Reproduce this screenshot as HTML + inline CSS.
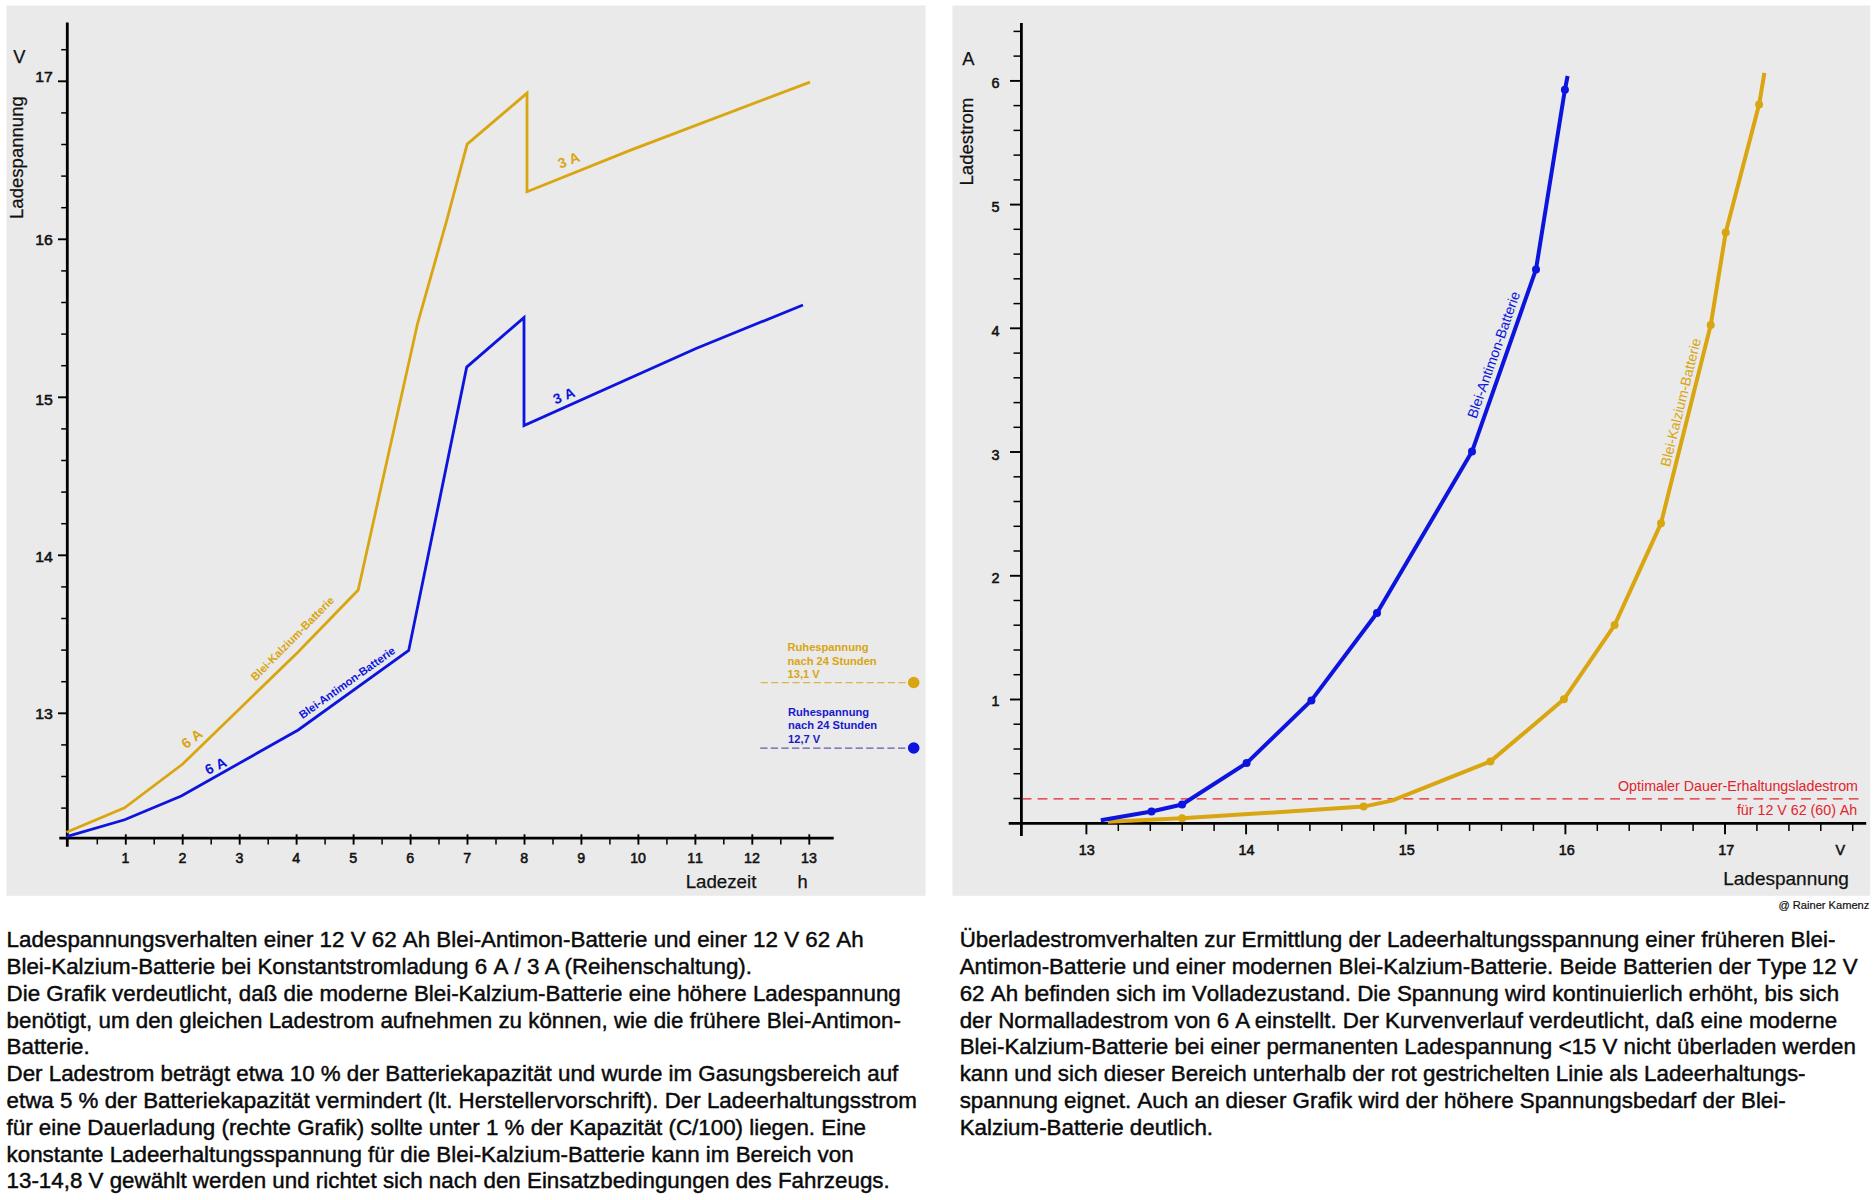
<!DOCTYPE html>
<html lang="de"><head><meta charset="utf-8"><title>Ladespannung</title>
<style>html,body{margin:0;padding:0;background:#fff}body{width:1873px;height:1200px;overflow:hidden;position:relative}svg{position:absolute;left:0;top:0;display:block}text{font-kerning:none;font-family:'Liberation Sans', sans-serif}</style>
</head><body>
<svg width="1873" height="1200" viewBox="0 0 1873 1200">
<rect x="0" y="0" width="1873" height="1200" fill="#fff"/>
<rect x="6.5" y="5.5" width="919" height="890.3" fill="#EAEAEA"/>
<rect x="952.5" y="5.5" width="917.7" height="890.3" fill="#EAEAEA"/>
<g stroke="#000" fill="none">
<line x1="67.3" y1="22.5" x2="67.3" y2="846.8" stroke-width="2.8"/>
<line x1="59.3" y1="838.2" x2="833.7" y2="838.2" stroke-width="2.8"/>
<line x1="61.2" y1="808.1" x2="67.3" y2="808.1" stroke-width="1.5"/>
<line x1="61.2" y1="776.5" x2="67.3" y2="776.5" stroke-width="1.5"/>
<line x1="61.2" y1="744.9" x2="67.3" y2="744.9" stroke-width="1.5"/>
<line x1="58" y1="713.3" x2="67.3" y2="713.3" stroke-width="1.9"/>
<line x1="61.2" y1="681.7" x2="67.3" y2="681.7" stroke-width="1.5"/>
<line x1="61.2" y1="650.1" x2="67.3" y2="650.1" stroke-width="1.5"/>
<line x1="61.2" y1="618.5" x2="67.3" y2="618.5" stroke-width="1.5"/>
<line x1="61.2" y1="586.9" x2="67.3" y2="586.9" stroke-width="1.5"/>
<line x1="58" y1="555.3" x2="67.3" y2="555.3" stroke-width="1.9"/>
<line x1="61.2" y1="523.7" x2="67.3" y2="523.7" stroke-width="1.5"/>
<line x1="61.2" y1="492.1" x2="67.3" y2="492.1" stroke-width="1.5"/>
<line x1="61.2" y1="460.5" x2="67.3" y2="460.5" stroke-width="1.5"/>
<line x1="61.2" y1="428.9" x2="67.3" y2="428.9" stroke-width="1.5"/>
<line x1="58" y1="397.3" x2="67.3" y2="397.3" stroke-width="1.9"/>
<line x1="61.2" y1="365.7" x2="67.3" y2="365.7" stroke-width="1.5"/>
<line x1="61.2" y1="334.1" x2="67.3" y2="334.1" stroke-width="1.5"/>
<line x1="61.2" y1="302.5" x2="67.3" y2="302.5" stroke-width="1.5"/>
<line x1="61.2" y1="270.9" x2="67.3" y2="270.9" stroke-width="1.5"/>
<line x1="58" y1="239.3" x2="67.3" y2="239.3" stroke-width="1.9"/>
<line x1="61.2" y1="207.7" x2="67.3" y2="207.7" stroke-width="1.5"/>
<line x1="61.2" y1="176.1" x2="67.3" y2="176.1" stroke-width="1.5"/>
<line x1="61.2" y1="144.5" x2="67.3" y2="144.5" stroke-width="1.5"/>
<line x1="61.2" y1="112.9" x2="67.3" y2="112.9" stroke-width="1.5"/>
<line x1="58" y1="81.3" x2="67.3" y2="81.3" stroke-width="1.9"/>
<line x1="61.2" y1="49.7" x2="67.3" y2="49.7" stroke-width="1.5"/>
<line x1="97.3" y1="838.2" x2="97.3" y2="844.4" stroke-width="1.5"/>
<line x1="125.8" y1="834.3" x2="125.8" y2="844.6" stroke-width="1.9"/>
<line x1="154.2" y1="838.2" x2="154.2" y2="844.4" stroke-width="1.5"/>
<line x1="182.7" y1="834.3" x2="182.7" y2="844.6" stroke-width="1.9"/>
<line x1="211.2" y1="838.2" x2="211.2" y2="844.4" stroke-width="1.5"/>
<line x1="239.7" y1="834.3" x2="239.7" y2="844.6" stroke-width="1.9"/>
<line x1="268.2" y1="838.2" x2="268.2" y2="844.4" stroke-width="1.5"/>
<line x1="296.6" y1="834.3" x2="296.6" y2="844.6" stroke-width="1.9"/>
<line x1="325.1" y1="838.2" x2="325.1" y2="844.4" stroke-width="1.5"/>
<line x1="353.6" y1="834.3" x2="353.6" y2="844.6" stroke-width="1.9"/>
<line x1="382.1" y1="838.2" x2="382.1" y2="844.4" stroke-width="1.5"/>
<line x1="410.6" y1="834.3" x2="410.6" y2="844.6" stroke-width="1.9"/>
<line x1="439.0" y1="838.2" x2="439.0" y2="844.4" stroke-width="1.5"/>
<line x1="467.5" y1="834.3" x2="467.5" y2="844.6" stroke-width="1.9"/>
<line x1="496.0" y1="838.2" x2="496.0" y2="844.4" stroke-width="1.5"/>
<line x1="524.5" y1="834.3" x2="524.5" y2="844.6" stroke-width="1.9"/>
<line x1="553.0" y1="838.2" x2="553.0" y2="844.4" stroke-width="1.5"/>
<line x1="581.4" y1="834.3" x2="581.4" y2="844.6" stroke-width="1.9"/>
<line x1="609.9" y1="838.2" x2="609.9" y2="844.4" stroke-width="1.5"/>
<line x1="638.4" y1="834.3" x2="638.4" y2="844.6" stroke-width="1.9"/>
<line x1="666.9" y1="838.2" x2="666.9" y2="844.4" stroke-width="1.5"/>
<line x1="695.4" y1="834.3" x2="695.4" y2="844.6" stroke-width="1.9"/>
<line x1="723.8" y1="838.2" x2="723.8" y2="844.4" stroke-width="1.5"/>
<line x1="752.3" y1="834.3" x2="752.3" y2="844.6" stroke-width="1.9"/>
<line x1="780.8" y1="838.2" x2="780.8" y2="844.4" stroke-width="1.5"/>
<line x1="809.3" y1="834.3" x2="809.3" y2="844.6" stroke-width="1.9"/>
</g>
<g font-size="14.8" fill="#111" stroke="#111" stroke-width="0.55">
<text transform="translate(52.8 719.0) scale(1.07 1)" text-anchor="end">13</text>
<text transform="translate(52.8 561.6) scale(1.07 1)" text-anchor="end">14</text>
<text transform="translate(52.8 404.7) scale(1.07 1)" text-anchor="end">15</text>
<text transform="translate(52.8 244.7) scale(1.07 1)" text-anchor="end">16</text>
<text transform="translate(52.8 82.4) scale(1.07 1)" text-anchor="end">17</text>
</g>
<g font-size="14.2" fill="#111" stroke="#111" stroke-width="0.55">
<text x="125.5" y="862.9" text-anchor="middle">1</text>
<text x="182.4" y="862.9" text-anchor="middle">2</text>
<text x="239.4" y="862.9" text-anchor="middle">3</text>
<text x="296.3" y="862.9" text-anchor="middle">4</text>
<text x="353.3" y="862.9" text-anchor="middle">5</text>
<text x="410.3" y="862.9" text-anchor="middle">6</text>
<text x="467.2" y="862.9" text-anchor="middle">7</text>
<text x="524.2" y="862.9" text-anchor="middle">8</text>
<text x="581.1" y="862.9" text-anchor="middle">9</text>
<text x="638.1" y="862.9" text-anchor="middle">10</text>
<text x="695.1" y="862.9" text-anchor="middle">11</text>
<text x="752.0" y="862.9" text-anchor="middle">12</text>
<text x="809.0" y="862.9" text-anchor="middle">13</text>
</g>
<g font-size="18.3" fill="#111" stroke="#111" stroke-width="0.25">
<text x="13.3" y="62.8">V</text>
<text transform="translate(22.9 219) rotate(-90)" font-size="18.57">Ladespannung</text>
<text x="685.7" y="888.4" font-size="18.7">Ladezeit</text>
<text x="797.5" y="888.2">h</text>
</g>
<polyline points="66.5,832.3 124.6,807.9 182.7,764.0 297.6,652.5 358.2,590.0 417.5,323.8 446.4,221.6 467.2,144.1 527.0,93.1 527.0,191.7 630.0,150.4 810.0,82.1" fill="none" stroke="#D9A511" stroke-width="2.8" stroke-linejoin="miter"/>
<polyline points="66.5,836.6 124.6,819.8 181.3,796.0 298.2,730.0 408.7,650.5 466.7,367.1 524.0,317.6 524.0,425.5 696.0,348.5 803.0,305.0" fill="none" stroke="#0C14DE" stroke-width="2.8" stroke-linejoin="miter"/>
<g font-weight="bold">
<text transform="translate(255.5 681.6) rotate(-45.4)" font-size="11.25" fill="#D9A511">Blei-Kalzium-Batterie</text>
<text transform="translate(302.5 719.2) rotate(-35.5)" font-size="11.2" fill="#0C14DE">Blei-Antimon-Batterie</text>
<text transform="translate(186.1 749.2) rotate(-37)" font-size="14.2" fill="#D9A511">6 A</text>
<text transform="translate(207.7 775) rotate(-25)" font-size="14.2" fill="#0C14DE">6 A</text>
<text transform="translate(560.3 168.7) rotate(-21)" font-size="14.2" fill="#D9A511">3 A</text>
<text transform="translate(555.5 404.5) rotate(-22)" font-size="14.2" fill="#0C14DE">3 A</text>
</g>
<g font-size="11.15" font-weight="bold" fill="#D9A511">
<text x="787.5" y="651.3">Ruhespannung</text><text x="787.5" y="664.5">nach 24 Stunden</text><text x="787.5" y="677.6">13,1 V</text></g>
<g font-size="11.15" font-weight="bold" fill="#1818CC">
<text x="788" y="715.8">Ruhespannung</text><text x="788" y="729.2">nach 24 Stunden</text><text x="788" y="742.5">12,7 V</text></g>
<line x1="760.6" y1="682.6" x2="908" y2="682.6" stroke="#D6B852" stroke-width="1.2" stroke-dasharray="7.3 3.3"/>
<line x1="760.2" y1="748.1" x2="908" y2="748.1" stroke="#5C5CB0" stroke-width="1.2" stroke-dasharray="7.3 3.3"/>
<circle cx="913.7" cy="682.5" r="5.8" fill="#D9A511"/>
<circle cx="913.7" cy="748" r="5.8" fill="#0C14DE"/>
<g stroke="#000" fill="none">
<line x1="1021.4" y1="23" x2="1021.4" y2="836" stroke-width="2.8"/>
<line x1="1008.7" y1="823.3" x2="1866.2" y2="823.3" stroke-width="2.8"/>
<line x1="1013.5" y1="798.5" x2="1021.4" y2="798.5" stroke-width="1.5"/>
<line x1="1013.5" y1="773.7" x2="1021.4" y2="773.7" stroke-width="1.5"/>
<line x1="1013.5" y1="749.0" x2="1021.4" y2="749.0" stroke-width="1.5"/>
<line x1="1013.5" y1="724.2" x2="1021.4" y2="724.2" stroke-width="1.5"/>
<line x1="1010" y1="699.5" x2="1021.4" y2="699.5" stroke-width="1.9"/>
<line x1="1013.5" y1="674.7" x2="1021.4" y2="674.7" stroke-width="1.5"/>
<line x1="1013.5" y1="650.0" x2="1021.4" y2="650.0" stroke-width="1.5"/>
<line x1="1013.5" y1="625.2" x2="1021.4" y2="625.2" stroke-width="1.5"/>
<line x1="1013.5" y1="600.5" x2="1021.4" y2="600.5" stroke-width="1.5"/>
<line x1="1010" y1="575.8" x2="1021.4" y2="575.8" stroke-width="1.9"/>
<line x1="1013.5" y1="551.0" x2="1021.4" y2="551.0" stroke-width="1.5"/>
<line x1="1013.5" y1="526.3" x2="1021.4" y2="526.3" stroke-width="1.5"/>
<line x1="1013.5" y1="501.5" x2="1021.4" y2="501.5" stroke-width="1.5"/>
<line x1="1013.5" y1="476.8" x2="1021.4" y2="476.8" stroke-width="1.5"/>
<line x1="1010" y1="452.0" x2="1021.4" y2="452.0" stroke-width="1.9"/>
<line x1="1013.5" y1="427.3" x2="1021.4" y2="427.3" stroke-width="1.5"/>
<line x1="1013.5" y1="402.6" x2="1021.4" y2="402.6" stroke-width="1.5"/>
<line x1="1013.5" y1="377.8" x2="1021.4" y2="377.8" stroke-width="1.5"/>
<line x1="1013.5" y1="353.1" x2="1021.4" y2="353.1" stroke-width="1.5"/>
<line x1="1010" y1="328.3" x2="1021.4" y2="328.3" stroke-width="1.9"/>
<line x1="1013.5" y1="303.6" x2="1021.4" y2="303.6" stroke-width="1.5"/>
<line x1="1013.5" y1="278.8" x2="1021.4" y2="278.8" stroke-width="1.5"/>
<line x1="1013.5" y1="254.1" x2="1021.4" y2="254.1" stroke-width="1.5"/>
<line x1="1013.5" y1="229.3" x2="1021.4" y2="229.3" stroke-width="1.5"/>
<line x1="1010" y1="204.6" x2="1021.4" y2="204.6" stroke-width="1.9"/>
<line x1="1013.5" y1="179.9" x2="1021.4" y2="179.9" stroke-width="1.5"/>
<line x1="1013.5" y1="155.1" x2="1021.4" y2="155.1" stroke-width="1.5"/>
<line x1="1013.5" y1="130.4" x2="1021.4" y2="130.4" stroke-width="1.5"/>
<line x1="1013.5" y1="105.6" x2="1021.4" y2="105.6" stroke-width="1.5"/>
<line x1="1010" y1="80.9" x2="1021.4" y2="80.9" stroke-width="1.9"/>
<line x1="1013.5" y1="56.1" x2="1021.4" y2="56.1" stroke-width="1.5"/>
<line x1="1013.5" y1="31.4" x2="1021.4" y2="31.4" stroke-width="1.5"/>
<line x1="1086.4" y1="823.3" x2="1086.4" y2="834.3" stroke-width="1.9"/>
<line x1="1118.3" y1="823.3" x2="1118.3" y2="831" stroke-width="1.5"/>
<line x1="1150.3" y1="823.3" x2="1150.3" y2="831" stroke-width="1.5"/>
<line x1="1182.2" y1="823.3" x2="1182.2" y2="831" stroke-width="1.5"/>
<line x1="1214.1" y1="823.3" x2="1214.1" y2="831" stroke-width="1.5"/>
<line x1="1246.1" y1="823.3" x2="1246.1" y2="834.3" stroke-width="1.9"/>
<line x1="1278.0" y1="823.3" x2="1278.0" y2="831" stroke-width="1.5"/>
<line x1="1309.9" y1="823.3" x2="1309.9" y2="831" stroke-width="1.5"/>
<line x1="1341.8" y1="823.3" x2="1341.8" y2="831" stroke-width="1.5"/>
<line x1="1373.8" y1="823.3" x2="1373.8" y2="831" stroke-width="1.5"/>
<line x1="1405.7" y1="823.3" x2="1405.7" y2="834.3" stroke-width="1.9"/>
<line x1="1437.6" y1="823.3" x2="1437.6" y2="831" stroke-width="1.5"/>
<line x1="1469.6" y1="823.3" x2="1469.6" y2="831" stroke-width="1.5"/>
<line x1="1501.5" y1="823.3" x2="1501.5" y2="831" stroke-width="1.5"/>
<line x1="1533.4" y1="823.3" x2="1533.4" y2="831" stroke-width="1.5"/>
<line x1="1565.4" y1="823.3" x2="1565.4" y2="834.3" stroke-width="1.9"/>
<line x1="1597.3" y1="823.3" x2="1597.3" y2="831" stroke-width="1.5"/>
<line x1="1629.2" y1="823.3" x2="1629.2" y2="831" stroke-width="1.5"/>
<line x1="1661.1" y1="823.3" x2="1661.1" y2="831" stroke-width="1.5"/>
<line x1="1693.1" y1="823.3" x2="1693.1" y2="831" stroke-width="1.5"/>
<line x1="1725.0" y1="823.3" x2="1725.0" y2="834.3" stroke-width="1.9"/>
<line x1="1756.9" y1="823.3" x2="1756.9" y2="831" stroke-width="1.5"/>
<line x1="1788.9" y1="823.3" x2="1788.9" y2="831" stroke-width="1.5"/>
<line x1="1820.8" y1="823.3" x2="1820.8" y2="831" stroke-width="1.5"/>
<line x1="1852.7" y1="823.3" x2="1852.7" y2="831" stroke-width="1.5"/>
</g>
<g font-size="14.1" fill="#111" stroke="#111" stroke-width="0.55">
<text transform="translate(999.5 706.3) scale(1.02 1)" text-anchor="end">1</text>
<text transform="translate(999.5 583.3) scale(1.02 1)" text-anchor="end">2</text>
<text transform="translate(999.5 460.0) scale(1.02 1)" text-anchor="end">3</text>
<text transform="translate(999.5 335.8) scale(1.02 1)" text-anchor="end">4</text>
<text transform="translate(999.5 212.0) scale(1.02 1)" text-anchor="end">5</text>
<text transform="translate(999.5 87.8) scale(1.02 1)" text-anchor="end">6</text>
<text transform="translate(1086.7 854.8) scale(1.02 1)" text-anchor="middle">13</text>
<text transform="translate(1246.6 854.8) scale(1.02 1)" text-anchor="middle">14</text>
<text transform="translate(1406.7 854.8) scale(1.02 1)" text-anchor="middle">15</text>
<text transform="translate(1566.8 854.8) scale(1.02 1)" text-anchor="middle">16</text>
<text transform="translate(1726.2 854.8) scale(1.02 1)" text-anchor="middle">17</text>
<text transform="translate(1840.4 854.8) scale(1.02 1)" text-anchor="middle">V</text>
</g>
<g font-size="18.3" fill="#111" stroke="#111" stroke-width="0.25">
<text x="962.3" y="65.3">A</text>
<text transform="translate(973.1 185.5) rotate(-90)" font-size="18.6">Ladestrom</text>
<text x="1723.2" y="884.9" font-size="19">Ladespannung</text>
</g>
<text x="1869.3" y="908.8" font-size="11.1" text-anchor="end" fill="#111" stroke="#111" stroke-width="0.2">@ Rainer Kamenz</text>
<line x1="1022.9" y1="798.9" x2="1859.2" y2="798.9" stroke="#E2232E" stroke-width="1.2" stroke-dasharray="9.8 6.106" stroke-dashoffset="1.2"/>
<g font-size="14.25" fill="#E2232E" text-anchor="end"><text x="1858" y="791.2">Optimaler Dauer-Erhaltungsladestrom</text><text x="1857.3" y="815">für 12 V 62 (60) Ah</text></g>
<polyline points="1108.0,821.8 1182.1,818.3 1363.6,806.6 1392.0,800.6 1490.4,761.4 1563.9,699.3 1614.6,625.1 1661.0,523.3 1710.7,325.1 1725.7,232.6 1759.1,104.6 1764.4,72.8" fill="none" stroke="#D9A511" stroke-width="4" stroke-linejoin="round"/>
<circle cx="1182.1" cy="818.3" r="4" fill="#D9A511"/>
<circle cx="1363.6" cy="806.6" r="4" fill="#D9A511"/>
<circle cx="1490.4" cy="761.4" r="4" fill="#D9A511"/>
<circle cx="1563.9" cy="699.3" r="4" fill="#D9A511"/>
<circle cx="1614.6" cy="625.1" r="4" fill="#D9A511"/>
<circle cx="1661" cy="523.3" r="4" fill="#D9A511"/>
<circle cx="1710.7" cy="325.1" r="4" fill="#D9A511"/>
<circle cx="1725.7" cy="232.6" r="4" fill="#D9A511"/>
<circle cx="1759.1" cy="104.6" r="4" fill="#D9A511"/>
<polyline points="1100.8,820.2 1151.5,811.5 1182.1,804.5 1246.6,763.1 1311.4,700.4 1377.0,613.0 1472.0,451.6 1536.0,269.4 1564.9,89.8 1567.6,76.0" fill="none" stroke="#0C14DE" stroke-width="4" stroke-linejoin="round"/>
<circle cx="1151.5" cy="811.5" r="4" fill="#0C14DE"/>
<circle cx="1182.1" cy="804.5" r="4" fill="#0C14DE"/>
<circle cx="1246.6" cy="763.1" r="4" fill="#0C14DE"/>
<circle cx="1311.4" cy="700.4" r="4" fill="#0C14DE"/>
<circle cx="1377" cy="613" r="4" fill="#0C14DE"/>
<circle cx="1472" cy="451.6" r="4" fill="#0C14DE"/>
<circle cx="1536" cy="269.4" r="4" fill="#0C14DE"/>
<circle cx="1564.9" cy="89.8" r="4" fill="#0C14DE"/>
<text transform="translate(1476.2 419.3) rotate(-70.6)" font-size="14.1" fill="#0C14DE">Blei-Antimon-Batterie</text>
<text transform="translate(1669.8 467.5) rotate(-76.2)" font-size="14.1" fill="#D9A511">Blei-Kalzium-Batterie</text>
<g font-size="22.35" fill="#0a0a0a" stroke="#0a0a0a" stroke-width="0.45">
<text x="6.55" y="947.3">Ladespannungsverhalten einer 12 V 62 Ah Blei-Antimon-Batterie und einer 12 V 62 Ah</text>
<text x="6.55" y="974.1">Blei-Kalzium-Batterie bei Konstantstromladung 6 A / 3 <tspan dx="-0.9">A</tspan> <tspan dx="-1.3">(Reihenschaltung).</tspan></text>
<text x="6.55" y="1000.8">Die Grafik verdeutlicht, daß die moderne Blei-Kalzium-Batterie eine höhere Ladespannung</text>
<text x="6.55" y="1027.6">benötigt, um den gleichen Ladestrom aufnehmen zu können, wie die frühere Blei-Antimon-</text>
<text x="6.55" y="1054.4">Batterie.</text>
<text x="6.55" y="1081.1">Der Ladestrom beträgt etwa 10 % der Batteriekapazität und wurde im Gasungsbereich auf</text>
<text x="6.55" y="1107.9">etwa 5 % der Batteriekapazität vermindert (lt. Herstellervorschrift). Der Ladeerhaltungsstrom</text>
<text x="6.55" y="1134.7">für eine Dauerladung (rechte Grafik) sollte unter 1 % der Kapazität (C/100) liegen. Eine</text>
<text x="6.55" y="1161.5">konstante Ladeerhaltungsspannung für die Blei-Kalzium-Batterie kann im Bereich von</text>
<text x="6.55" y="1188.2">13-14,8 V gewählt werden und richtet sich nach den Einsatzbedingungen des Fahrzeugs.</text>
<text x="959.7" y="947.3">Überladestromverhalten zur Ermittlung der Ladeerhaltungsspannung einer früheren Blei-</text>
<text x="959.7" y="974.1">Antimon-Batterie und einer modernen Blei-Kalzium-Batterie. Beide Batterien der Type <tspan dx="-1.2">12 V</tspan></text>
<text x="959.7" y="1000.8">62 Ah befinden sich im Volladezustand. Die Spannung wird kontinuierlich erhöht, bis sich</text>
<text x="959.7" y="1027.6">der Normalladestrom von 6 A <tspan dx="-1.8">einstellt.</tspan> Der Kurvenverlauf verdeutlicht, daß eine moderne</text>
<text x="959.7" y="1054.4">Blei-Kalzium-Batterie bei einer permanenten Ladespannung &lt;15 V nicht überladen werden</text>
<text x="959.7" y="1081.1">kann und sich dieser Bereich unterhalb der rot gestrichelten Linie als Ladeerhaltungs-</text>
<text x="959.7" y="1107.9">spannung eignet. Auch an dieser Grafik wird der höhere Spannungsbedarf der Blei-</text>
<text x="959.7" y="1134.7">Kalzium-Batterie deutlich.</text>
</g>
</svg></body></html>
